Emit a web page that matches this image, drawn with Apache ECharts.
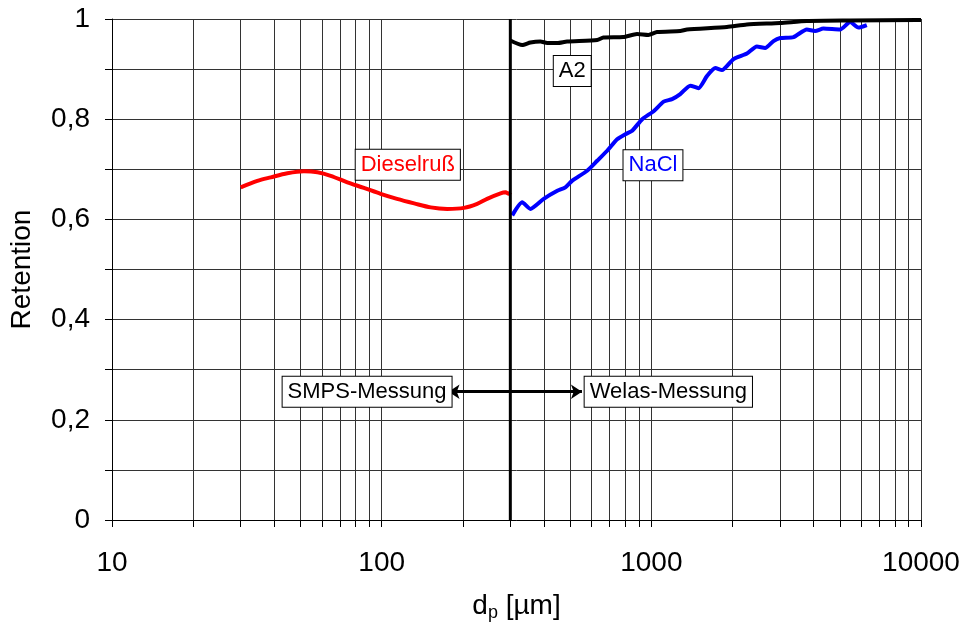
<!DOCTYPE html>
<html><head><meta charset="utf-8">
<script src="https://cdn.jsdelivr.net/npm/echarts@6/dist/echarts.min.js"></script>
<style>html,body{margin:0;padding:0;background:#fff}#c{width:966px;height:633px}</style>
</head><body><div id="c"></div>
<script>
// ---- data ----
const xTickValues = [10,20,30,40,50,60,70,80,90,100,200,300,400,500,600,700,800,900,1000,2000,3000,4000,5000,6000,7000,8000,9000,10000];
const xLabelValues = [10,100,1000,10000];
const dieselX = [30, 34.6, 38.8, 44.7, 51.5, 57.8, 64.7, 74.6, 85.9, 99.1, 114, 132, 152, 175, 202, 226, 246, 276, 288, 296, 300];
const dieselY = [0.664, 0.677, 0.684, 0.692, 0.696, 0.694, 0.687, 0.674, 0.663, 0.651, 0.641, 0.632, 0.624, 0.621, 0.623, 0.631, 0.641, 0.652, 0.654, 0.651, 0.654];
const naclX = [305, 332, 356, 399, 448, 480, 508, 578, 630, 686, 747, 801, 849, 925, 1020, 1111, 1194, 1280, 1394, 1496, 1608, 1727, 1828, 2018, 2262, 2462, 2642, 2838, 3005, 3367, 3773, 4049, 4345, 5012, 5460, 5860, 6295];
const naclY = [0.608, 0.634, 0.621, 0.641, 0.657, 0.664, 0.677, 0.697, 0.717, 0.737, 0.760, 0.770, 0.777, 0.800, 0.816, 0.835, 0.840, 0.850, 0.867, 0.862, 0.886, 0.902, 0.898, 0.920, 0.931, 0.945, 0.942, 0.956, 0.962, 0.964, 0.979, 0.976, 0.981, 0.979, 0.994, 0.983, 0.988];
const a2X = [300, 332, 356, 388, 411, 448, 487, 630, 664, 787, 885, 975, 1050, 1280, 1356, 1906, 2260, 3003, 3773, 5460, 9640, 10000];
const a2Y = [0.957, 0.948, 0.953, 0.955, 0.952, 0.952, 0.955, 0.958, 0.963, 0.964, 0.970, 0.968, 0.974, 0.976, 0.979, 0.984, 0.989, 0.992, 0.996, 0.997, 0.998, 0.998];
const dividerX = [300, 300];
const dividerY = [0, 1];
const arrowX = [177, 553];
const arrowY = 0.256;
const labelTexts = ['Dieselruß', 'NaCl', 'A2', 'SMPS-Messung', 'Welas-Messung'];
const labelX = [125, 1014, 509, 88.3, 1156];
const labelY = [0.709, 0.708, 0.896, 0.256, 0.256];
const labelColors = ['#ff0000', '#0000ff', '#000000', '#000000', '#000000'];

const zip = (xs, ys) => xs.map((x, i) => [x, ys[i]]);
const FONT = 'Liberation Sans, Arial, sans-serif';

const chart = echarts.init(document.getElementById('c'), null, {renderer: 'canvas'});
chart.setOption({
  animation: false,
  backgroundColor: '#fff',
  grid: {left: 111, right: 45, top: 19, bottom: 113, containLabel: false},
  xAxis: {
    type: 'log', logBase: 10, min: 10, max: 10000,
    axisLine: {show: true, lineStyle: {color: '#000', width: 1}},
    axisTick: {show: true, inside: false, length: 7, customValues: xTickValues, lineStyle: {color: '#000', width: 1}},
    minorTick: {show: false},
    axisLabel: {customValues: xLabelValues, margin: 29, fontSize: 28, color: '#000', fontFamily: FONT,
      formatter: v => String(Math.round(v))},
    splitLine: {show: true, lineStyle: {color: '#333', width: 1}},
    name: 'd{sub|p} [µm]', nameLocation: 'middle', nameGap: 70,
    nameTextStyle: {fontSize: 28, color: '#000', fontFamily: FONT,
      rich: {sub: {fontSize: 18, color: '#000', fontFamily: FONT, padding: [14, 0, 0, 0]}}}
  },
  yAxis: {
    type: 'value', min: 0, max: 1, interval: 0.1,
    axisLine: {show: true, lineStyle: {color: '#000', width: 1}},
    axisTick: {show: true, inside: false, length: 7, lineStyle: {color: '#000', width: 1}},
    axisLabel: {margin: 22, fontSize: 28, color: '#000', fontFamily: FONT,
      formatter: v => (Math.round(v * 10) % 2 === 0) ? String(Math.round(v * 10) / 10).replace('.', ',') : ''},
    splitLine: {show: true, lineStyle: {color: '#333', width: 1}},
    name: 'Retention', nameLocation: 'middle', nameGap: 76, nameRotate: 90,
    nameTextStyle: {fontSize: 28, color: '#000', fontFamily: FONT}
  },
  series: [
    {name: 'Dieselruß', type: 'line', data: zip(dieselX, dieselY), showSymbol: false, smooth: 0.3,
      lineStyle: {color: '#ff0000', width: 4}, itemStyle: {color: '#ff0000'}, z: 5},
    {name: 'NaCl', type: 'line', data: zip(naclX, naclY), showSymbol: false, smooth: 0.2,
      lineStyle: {color: '#0000ff', width: 4}, itemStyle: {color: '#0000ff'}, z: 5},
    {name: 'A2', type: 'line', data: zip(a2X, a2Y), showSymbol: false, smooth: 0.2,
      lineStyle: {color: '#000', width: 4}, itemStyle: {color: '#000'}, z: 5},
    {name: 'divider', type: 'line', data: zip(dividerX, dividerY), showSymbol: false,
      lineStyle: {color: '#000', width: 3}, itemStyle: {color: '#000'}, z: 6,
      markLine: {
        silent: true, symbol: ['arrow', 'arrow'], symbolSize: 11,
        label: {show: false},
        lineStyle: {color: '#000', width: 3, type: 'solid'},
        data: [[{coord: [arrowX[0], arrowY]}, {coord: [arrowX[1], arrowY]}]]
      },
      markPoint: {
        silent: true, symbol: 'circle', symbolSize: 1,
        itemStyle: {color: 'rgba(0,0,0,0)'},
        data: labelTexts.map((t, i) => ({
          name: t, coord: [labelX[i], labelY[i]],
          label: {show: true, position: 'inside', formatter: '{b}', fontSize: 22, fontFamily: FONT,
            color: labelColors[i], backgroundColor: '#fff', borderColor: '#000', borderWidth: 1,
            padding: [4, 5, 3, 5], lineHeight: 23}
        }))
      }
    }
  ]
});
</script>
</body></html>
